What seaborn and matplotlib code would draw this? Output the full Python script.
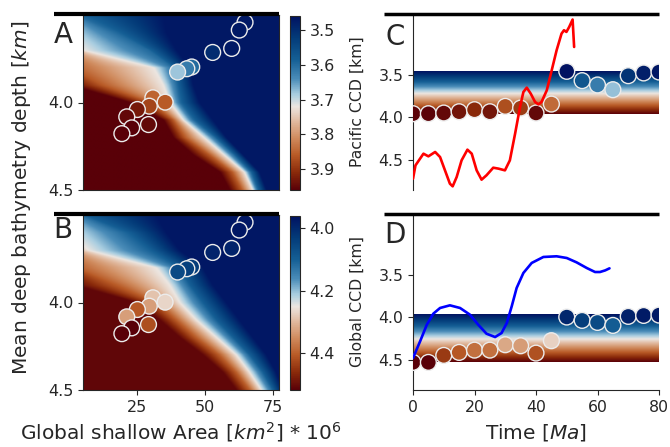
import numpy as np
import pandas as pd
import matplotlib
matplotlib.use("Agg")
import matplotlib.pyplot as plt
import seaborn as sns
from matplotlib.colors import LinearSegmentedColormap, Normalize
from matplotlib.cm import ScalarMappable
from matplotlib.lines import Line2D

sns.set_style("ticks")
plt.rcParams["font.family"] = ["DejaVu Sans"]

# ---------------- data ----------------
time_ma = [0, 5, 10, 15, 20, 25, 30, 35, 40, 45, 50, 55, 60, 65, 70, 75, 80]
pacific_ccd_pts = [3.957, 3.957, 3.949, 3.934, 3.91, 3.934, 3.871, 3.891, 3.949,
                   3.844, 3.461, 3.57, 3.621, 3.676, 3.512, 3.48, 3.469]
global_ccd_pts = [4.527, 4.527, 4.445, 4.41, 4.383, 4.383, 4.32, 4.332, 4.418,
                  4.273, 3.996, 4.035, 4.059, 4.094, 3.988, 3.977, 3.973]

pac_curve_t = [0, 0.8, 3.4, 5.0, 7.2, 8.8, 10.4, 12.0, 12.9, 14.2, 15.8, 17.7, 19.1,
               20.7, 22.3, 23.9, 26.1, 27.8, 29.9, 31.5, 33.2, 34.8, 35.9, 37.0,
               38.3, 39.7, 40.8, 41.8, 43.5, 45.1, 46.7, 48.3, 49.1, 49.9, 50.8,
               51.9, 52.4]
pac_curve_ccd = [4.718, 4.562, 4.425, 4.456, 4.405, 4.464, 4.62, 4.776, 4.807,
                 4.698, 4.503, 4.378, 4.425, 4.62, 4.729, 4.678, 4.589, 4.6, 4.62,
                 4.503, 4.191, 3.879, 3.703, 3.652, 3.723, 3.82, 3.848, 3.82,
                 3.684, 3.45, 3.215, 3.02, 2.98, 3.0, 2.941, 2.855, 3.176]

glob_curve_t = [0, 2.3, 4.5, 6.6, 8.8, 12.0, 15.3, 18.5, 21.2, 23.9, 26.7, 28.8,
                30.5, 32.1, 33.7, 35.9, 38.6, 42.4, 46.7, 50.0, 53.2, 56.5, 59.2,
                60.8, 62.5, 63.9]
glob_curve_ccd = [4.476, 4.281, 4.085, 3.957, 3.89, 3.859, 3.89, 3.968, 4.085,
                  4.191, 4.23, 4.183, 4.066, 3.871, 3.656, 3.48, 3.363, 3.293,
                  3.285, 3.305, 3.356, 3.422, 3.469, 3.469, 3.45, 3.426]

shallow_area = [64.6, 62.5, 59.7, 52.7, 45.0, 43.2, 39.8, 30.7, 35.2, 29.4, 25.0,
                21.1, 29.1, 22.9, 19.3]
deep_depth = [3.542, 3.586, 3.691, 3.714, 3.797, 3.807, 3.826, 3.973, 3.998,
              4.021, 4.04, 4.082, 4.126, 4.145, 4.178]
pts_pacific = [3.47, 3.47, 3.47, 3.50, 3.60, 3.62, 3.68, 3.85, 3.86, 3.88, 3.93,
               3.95, 3.95, 3.96, 3.96]
pts_global = [3.97, 3.97, 3.99, 3.99, 4.03, 4.04, 4.06, 4.29, 4.27, 4.33, 4.41,
              4.33, 4.42, 4.52, 4.52]

# heat-map fronts: x position (shallow area) of each colour level per depth row
front_rows = [3.5, 3.6, 3.7, 3.8, 3.9, 4.0, 4.1, 4.2, 4.3, 4.4, 4.5]
pac_levels = [3.96, 3.86, 3.72, 3.60, 3.47]
pac_dred = [-25, -20, -15, -10, 0, 22.3, 34.6, 38.2, 45.5, 55.5, 59.0]
pac_orng = [-14, -10, -5, 0, 12, 29.7, 38.2, 42.5, 51.5, 60.0, 63.5]
pac_whit = [-6, -2, 5, 31, 34.6, 37.0, 41.9, 49.5, 57.0, 64.5, 67.5]
pac_blue = [3, 17.0, 29.0, 38.2, 39.5, 40.7, 45.6, 53.5, 60.5, 66.8, 69.3]
pac_navy = [34.6, 35.8, 39.5, 44.4, 45.6, 48.0, 52.9, 57.8, 64.0, 70.1, 72.6]

glob_levels = [4.51, 4.40, 4.25, 4.10, 3.97]
glob_dred = [-25, -20, -15, -8, 2, 24.8, 33.3, 40.7, 49.2, 56.6, 61.5]
glob_orng = [-14, -9, -4, 3, 18, 32.1, 39.5, 46.8, 55.3, 61.5, 66.4]
glob_whit = [-6, 0, 7, 32, 37, 40.7, 46.8, 54.2, 61.5, 66.4, 70.7]
glob_blue = [6, 22.0, 30, 40.7, 44.4, 49.2, 54.2, 60.3, 66.4, 71.3, 75.0]
glob_navy = [32, 35.8, 40.7, 49.2, 52.9, 57.8, 62.7, 67.6, 72.6, 76.2, 78.6]

pac_range = (3.46, 3.96)
glob_range = (3.96, 4.52)
area_range = (5.0, 77.1)
depth_range = (3.5, 4.5)

# ---------------- colour map (vik-like) ----------------
vik = LinearSegmentedColormap.from_list("vik", [
    (0.00, "#011261"), (0.12, "#033a78"), (0.25, "#155f95"), (0.36, "#4a8cb8"),
    (0.45, "#a8cde0"), (0.52, "#ece6e1"), (0.60, "#e2bda4"), (0.70, "#d08c5f"),
    (0.80, "#b85a26"), (0.90, "#8a2a0a"), (1.00, "#590008")])


def build_field(fronts, levels, xg, yg):
    cross = np.array([np.interp(yg, front_rows, f) for f in fronts])
    return np.array([np.interp(xg, cross[:, j], levels) for j in range(len(yg))])


xg = np.linspace(area_range[0], area_range[1], 400)
yg = np.linspace(depth_range[0], depth_range[1], 300)

fig = plt.figure(figsize=(6.7, 4.47), dpi=100)
W, H = 670.0, 447.0


def box(l, t, r, b):
    return [l / W, 1 - b / H, (r - l) / W, (b - t) / H]


axA = fig.add_axes(box(83, 15, 279, 190))
caxA = fig.add_axes(box(290, 16, 300, 190))
axB = fig.add_axes(box(83, 215, 279, 390))
caxB = fig.add_axes(box(290, 216, 300, 390))
axC = fig.add_axes(box(413, 14, 659, 190))
axD = fig.add_axes(box(413, 214, 659, 390))

panels = [
    (axA, caxA, [pac_dred, pac_orng, pac_whit, pac_blue, pac_navy], pac_levels,
     pac_range, pts_pacific, [3.5, 3.6, 3.7, 3.8, 3.9]),
    (axB, caxB, [glob_dred, glob_orng, glob_whit, glob_blue, glob_navy], glob_levels,
     glob_range, pts_global, [4.0, 4.2, 4.4]),
]
for ax, cax, fronts, levels, rng, pts, cticks in panels:
    norm = Normalize(vmin=rng[0], vmax=rng[1])
    field = build_field(fronts, levels, xg, yg)
    ax.imshow(field, extent=[area_range[0], area_range[1], depth_range[1], depth_range[0]],
              cmap=vik, norm=norm, aspect="auto", interpolation="bilinear", zorder=1)
    df = pd.DataFrame({"area": shallow_area, "depth": deep_depth, "ccd": pts})
    sns.scatterplot(data=df, x="area", y="depth", hue="ccd", palette=vik, hue_norm=norm,
                    s=130, edgecolor="#ececec", linewidth=1.0, legend=False, ax=ax,
                    zorder=3)
    ax.set_xlim(*area_range)
    ax.set_ylim(depth_range[1], depth_range[0])
    ax.set_yticks([4.0, 4.5])
    ax.set_ylabel("")
    ax.tick_params(labelsize=11.5)
    cb = fig.colorbar(ScalarMappable(norm=norm, cmap=vik), cax=cax)
    cax.invert_yaxis()
    cb.set_ticks(cticks)
    cb.ax.tick_params(labelsize=11.5)
    cb.outline.set_linewidth(0.8)

axA.set_xticks([])
axA.set_xlabel("")
axB.set_xticks([25, 50, 75])
axB.set_xlabel(r"Global shallow Area [$km^2$] * $10^6$", fontsize=14.5, labelpad=4)

fig.text(22 / W, 1 - 198 / H, r"Mean deep bathymetry depth [$km$]", rotation=90,
         ha="center", va="center", fontsize=14.5)

time_panels = [
    (axC, pacific_ccd_pts, pac_range, pac_curve_t, pac_curve_ccd, "red", "Pacific CCD [km]"),
    (axD, global_ccd_pts, glob_range, glob_curve_t, glob_curve_ccd, "blue", "Global CCD [km]"),
]
for ax, pts, rng, ct, cc, lc, lab in time_panels:
    norm = Normalize(vmin=rng[0], vmax=rng[1])
    grad = np.linspace(rng[0], rng[1], 256).reshape(-1, 1)
    ax.imshow(grad, extent=[0, 80, rng[1], rng[0]], cmap=vik, norm=norm,
              aspect="auto", zorder=1)
    df = pd.DataFrame({"t": time_ma, "ccd": pts})
    sns.scatterplot(data=df, x="t", y="ccd", hue="ccd", palette=vik, hue_norm=norm,
                    s=130, edgecolor="#ececec", linewidth=1.0, legend=False, ax=ax,
                    zorder=3)
    sns.lineplot(x=ct, y=cc, color=lc, linewidth=1.9, sort=False, estimator=None,
                 ax=ax, zorder=4)
    ax.set_xlim(0, 80)
    ax.set_ylim(4.85, 2.79)
    ax.set_yticks([3.5, 4.0, 4.5])
    ax.set_ylabel(lab, fontsize=11.3, labelpad=10)
    ax.tick_params(labelsize=11.3)
    for s in ["top", "right"]:
        ax.spines[s].set_visible(False)

axC.spines["bottom"].set_visible(False)
axC.set_xticks([])
axC.set_xlabel("")
axD.set_xticks([0, 20, 40, 60, 80])
axD.set_xlabel(r"Time [$Ma$]", fontsize=14.5, labelpad=5)

# thick black bars above each panel
for x0, x1, y, lw in [(54, 279, 13.5, 3.0), (54, 279, 214.5, 3.0),
                      (384, 659, 13.5, 2.5), (384, 659, 214, 2.5)]:
    fig.add_artist(Line2D([x0 / W, x1 / W], [1 - y / H, 1 - y / H], color="black",
                          lw=lw, transform=fig.transFigure, solid_capstyle="butt"))

for letter, x, y in [("A", 63, 35), ("B", 63, 230), ("C", 395, 37), ("D", 395, 235)]:
    fig.text(x / W, 1 - y / H, letter, ha="center", va="center", fontsize=20)

fig.savefig("out.png", dpi=100)
